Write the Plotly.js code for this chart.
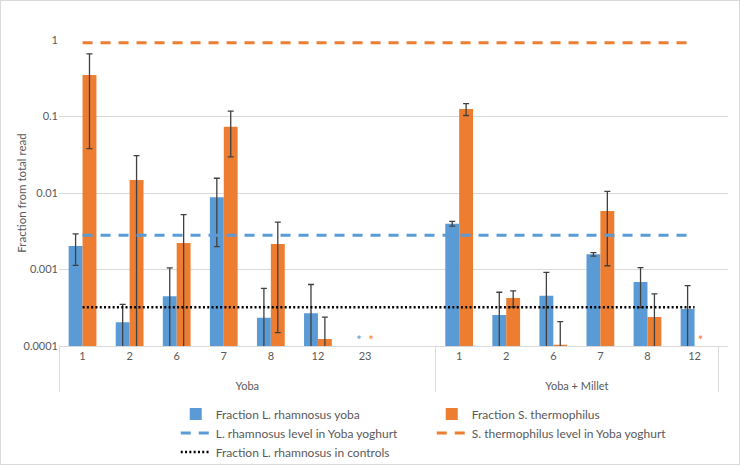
<!DOCTYPE html>
<html>
<head>
<meta charset="utf-8">
<script src="https://cdn.plot.ly/plotly-3.0.1.min.js"></script>
<style>
  body { margin: 0; background: #fff; }
  #wrap { position: relative; width: 740px; height: 465px; }
  #root { width: 740px; height: 465px; }
  #frame { position: absolute; left: 0; top: 0; width: 738px; height: 463px; border: 1px solid #d9d9d9; pointer-events: none; }
</style>
</head>
<body>
<div id="wrap"><div id="root"></div><div id="frame"></div></div>
<script>
// two-level categories (the empty Yoba slot keeps the gap before the millet group)
var groups = ['Yoba', 'Yoba', 'Yoba', 'Yoba', 'Yoba', 'Yoba', 'Yoba', 'Yoba',
              'Yoba + Millet', 'Yoba + Millet', 'Yoba + Millet', 'Yoba + Millet', 'Yoba + Millet', 'Yoba + Millet'];
var days = ['1', '2', '6', '7', '8', '12', '23', ' ',
            '1', '2', '6', '7', '8', '12'];

// 0 = not detected (drawn as *), null = no sample
var rhamnosus    = [0.00203, 0.000204, 0.000447, 0.00879, 0.000234, 0.000267, 0, null,
                    0.00397, 0.000254, 0.000455, 0.00158, 0.000687, 0.000305];
var rhamnosusErr = [0.0009, 0.000147, 0.0006, 0.0068, 0.000334, 0.00037, 0, null,
                    0.00028, 0.00025, 0.00046, 0.00008, 0.00037, 0.00031];
var thermo       = [0.348, 0.0148, 0.00222, 0.0736, 0.00215, 0.000123, 0, null,
                    0.125, 0.000424, 0.000104, 0.00582, 0.000239, 0];
var thermoErr    = [0.31, 0.016, 0.003, 0.044, 0.002, 0.000116, 0, null,
                    0.022, 0.0001, 0.000104, 0.0047, 0.00024, 0];

var rhamnosusYoghurt = 0.0028;
var thermoYoghurt = 0.92;
var rhamnosusControls = 0.00032;
var starLevel = 0.000112;

var yTicks = [0.0001, 0.001, 0.01, 0.1, 1];
var yTickText = ['0.0001', '0.001', '0.01', '0.1', '1'];

var blue = '#5b9bd5';
var orange = '#ed7d31';
var textGray = '#595959';
var font = 'Lato, sans-serif';

function constant(v) {
    return days.map(function() { return v; });
}

function notDetected(values) {
    var g = [], d = [];
    for (let i = 0; i < values.length; i++) {
        if (values[i] === 0) {
            g.push(groupLabels[i]);
            d.push(days[i]);
        }
    }
    return [g, d];
}

// push the group names a line lower, like the boxed labels in the original
var groupLabels = groups.map(function(g) { return '<br>' + g; });

var errStyle = { type: 'data', visible: true, color: '#404040', thickness: 1.3, width: 3 };

var traces = [
    {
        type: 'bar', name: 'Fraction L. rhamnosus yoba',
        x: [groupLabels, days], y: rhamnosus,
        marker: { color: blue },
        error_y: Object.assign({ array: rhamnosusErr }, errStyle)
    },
    {
        type: 'bar', name: 'Fraction S. thermophilus',
        x: [groupLabels, days], y: thermo,
        marker: { color: orange },
        error_y: Object.assign({ array: thermoErr }, errStyle)
    },
    {
        type: 'scatter', mode: 'lines', name: 'L. rhamnosus level in Yoba yoghurt',
        x: [groupLabels, days], y: constant(rhamnosusYoghurt),
        line: { color: blue, width: 3, dash: '10px,8px' }
    },
    {
        type: 'scatter', mode: 'lines', name: 'S. thermophilus level in Yoba yoghurt',
        x: [groupLabels, days], y: constant(thermoYoghurt),
        line: { color: orange, width: 3, dash: '10px,8px' }
    },
    {
        type: 'scatter', mode: 'lines', name: 'Fraction L. rhamnosus in controls',
        x: [groupLabels, days], y: constant(rhamnosusControls),
        line: { color: '#000000', width: 2.5, dash: '2px,2.3px' }
    }
];

var blueStars = notDetected(rhamnosus);
var orangeStars = notDetected(thermo);
traces.push({
    type: 'scatter', mode: 'text', showlegend: false, hoverinfo: 'skip',
    x: blueStars, y: blueStars[0].map(function() { return starLevel; }),
    text: blueStars[0].map(function() { return '* '; }),
    textposition: 'middle left', cliponaxis: false,
    textfont: { color: blue, size: 13, family: font }
});
traces.push({
    type: 'scatter', mode: 'text', showlegend: false, hoverinfo: 'skip',
    x: orangeStars, y: orangeStars[0].map(function() { return starLevel; }),
    text: orangeStars[0].map(function() { return ' *'; }),
    textposition: 'middle right', cliponaxis: false,
    textfont: { color: orange, size: 13, family: font }
});

var layout = {
    width: 740, height: 465,
    margin: { l: 59, r: 12, t: 40, b: 119, autoexpand: false },
    paper_bgcolor: '#ffffff', plot_bgcolor: '#ffffff',
    font: { family: font, size: 11, color: textGray },
    showlegend: true,
    barmode: 'group', bargap: 0.41, bargroupgap: 0,
    xaxis: {
        type: 'multicategory',
        showline: true, linecolor: '#d9d9d9', linewidth: 1,
        showgrid: false, zeroline: false, ticks: '',
        showdividers: true, dividercolor: '#d9d9d9', dividerwidth: 1,
        tickfont: { size: 11, color: textGray }
    },
    yaxis: {
        type: 'log', range: [-4, 0],
        tickvals: yTicks, ticktext: yTickText,
        showgrid: true, gridcolor: '#d9d9d9', gridwidth: 1,
        zeroline: false, showline: false, ticks: '',
        tickfont: { size: 11, color: textGray },
        title: { text: 'Fraction from total read', font: { size: 11.5, color: textGray } }
    },
    legend: {
        orientation: 'h', x: 0.1745, y: -0.175, xanchor: 'left', yanchor: 'top',
        entrywidth: 211, entrywidthmode: 'pixels',
        font: { size: 12, color: textGray }, itemwidth: 30
    }
};

Plotly.newPlot('root', traces, layout, { staticPlot: true });
</script>
</body>
</html>
